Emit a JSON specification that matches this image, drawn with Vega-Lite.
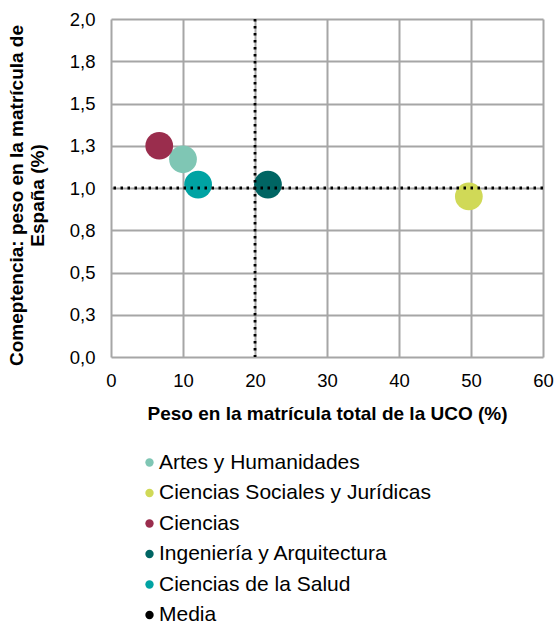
{
  "$schema": "https://vega.github.io/schema/vega-lite/v6.json",
  "autosize": {"type": "none"},
  "width": 432,
  "height": 338,
  "padding": {"left": 111, "top": 19, "right": 12, "bottom": 267},
  "background": "white",
  "config": {
    "font": "Liberation Sans",
    "view": {"stroke": null},
    "axis": {
      "grid": true,
      "gridColor": "#a6a6a6",
      "gridWidth": 2,
      "domain": false,
      "ticks": false,
      "labelFlush": false,
      "labelFont": "Liberation Sans",
      "labelFontSize": 18.5,
      "labelColor": "#000000",
      "titleFont": "Liberation Sans",
      "titleFontSize": 19,
      "titleFontWeight": "bold",
      "titleColor": "#000000"
    }
  },
  "datasets": {
    "puntos": [
      {"categoria": "Artes y Humanidades", "peso_uco": 10.0, "peso_espana": 1.17},
      {"categoria": "Ciencias Sociales y Jurídicas", "peso_uco": 49.7, "peso_espana": 0.95},
      {"categoria": "Ciencias", "peso_uco": 6.7, "peso_espana": 1.25},
      {"categoria": "Ingeniería y Arquitectura", "peso_uco": 21.8, "peso_espana": 1.02},
      {"categoria": "Ciencias de la Salud", "peso_uco": 12.1, "peso_espana": 1.02}
    ],
    "media": [
      {"categoria": "Media", "peso_uco": 20, "peso_espana": 1.0}
    ]
  },
  "layer": [
    {
      "data": {"name": "puntos"},
      "mark": {"type": "circle", "size": 770, "opacity": 1},
      "encoding": {
        "x": {
          "field": "peso_uco", "type": "quantitative",
          "scale": {"domain": [0, 60], "nice": false, "zero": true},
          "axis": {
            "values": [0, 10, 20, 30, 40, 50, 60],
            "labelPadding": 14,
            "title": "Peso en la matrícula total de la UCO (%)",
            "titlePadding": 15
          }
        },
        "y": {
          "field": "peso_espana", "type": "quantitative",
          "scale": {"domain": [0, 2], "nice": false},
          "axis": {
            "values": [0, 0.25, 0.5, 0.75, 1, 1.25, 1.5, 1.75, 2],
            "labelExpr": "replace(format(datum.value, '.1f'), '.', ',')",
            "labelPadding": 16,
            "title": ["Comeptencia: peso en la matrícula de", "España (%)"],
            "titlePadding": 22,
            "titleY": 176
          }
        },
        "color": {
          "field": "categoria", "type": "nominal",
          "scale": {
            "domain": ["Artes y Humanidades", "Ciencias Sociales y Jurídicas", "Ciencias", "Ingeniería y Arquitectura", "Ciencias de la Salud", "Media"],
            "range": ["#7fc6b4", "#d0d957", "#9a2d4d", "#006563", "#00a3a3", "#000000"]
          },
          "legend": {
            "title": null,
            "orient": "none",
            "legendX": 28,
            "legendY": 433,
            "symbolType": "circle",
            "symbolSize": 70,
            "symbolOpacity": 1,
            "labelFont": "Liberation Sans",
            "labelFontSize": 21,
            "labelColor": "#000000",
            "labelOffset": -1,
            "rowPadding": 8.5,
            "labelLimit": 400
          }
        }
      }
    },
    {
      "data": {"name": "media"},
      "mark": {"type": "rule", "color": "#000000", "strokeWidth": 2.8, "strokeDash": [2.5, 4.5]},
      "encoding": {
        "x": {"field": "peso_uco", "type": "quantitative"}
      }
    },
    {
      "data": {"name": "media"},
      "mark": {"type": "rule", "color": "#000000", "strokeWidth": 2.8, "strokeDash": [2.5, 4.5]},
      "encoding": {
        "y": {"field": "peso_espana", "type": "quantitative"}
      }
    }
  ]
}
